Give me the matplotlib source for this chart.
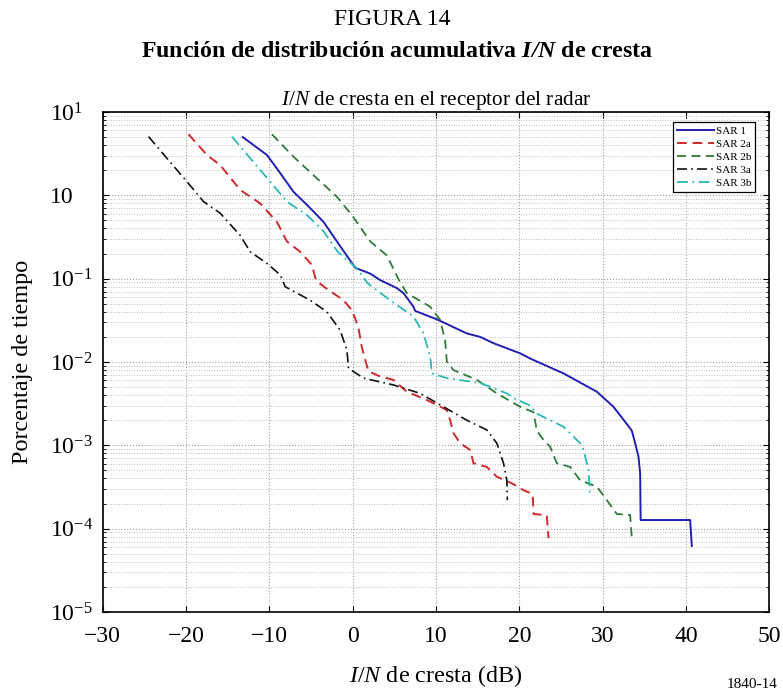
import numpy as np
import matplotlib
matplotlib.use('Agg')
from matplotlib import pyplot as plt
from matplotlib.ticker import LogLocator, NullFormatter

plt.rcParams['font.family'] = ['Liberation Serif', 'DejaVu Serif']
plt.rcParams['mathtext.fontset'] = 'custom'
plt.rcParams['mathtext.rm'] = 'Liberation Serif'
plt.rcParams['mathtext.it'] = 'Liberation Serif:italic'
plt.rcParams['mathtext.bf'] = 'Liberation Serif:bold'
plt.rcParams['mathtext.bfit'] = 'Liberation Serif:italic:bold'

# datos (I/N en dB, porcentaje de tiempo)
sar1_x = [-13.2, -10.3, -9.1, -7.1, -5.5, -3.5, -1.9, 0.07, 0.3, 2.1, 3.3, 5.3, 6.1, 7.3, 7.5,
          10.1, 13.7, 15.3, 16.9, 20.1, 21.3, 25.3, 29.3, 31.3, 32.9, 33.5, 33.9, 34.3, 34.5,
          34.56, 40.5, 40.7]
sar1_y = [5.0, 3.05, 2.1, 1.1, 0.77, 0.48, 0.28, 0.146, 0.135, 0.115, 0.096, 0.077, 0.067, 0.046,
          0.041, 0.0325, 0.022, 0.020, 0.0168, 0.0127, 0.011, 0.0073, 0.0044, 0.0029, 0.0018,
          0.0015, 0.00106, 7.3e-4, 4.6e-4, 1.27e-4, 1.27e-4, 6.2e-5]

sar2a_x = [-19.7, -17.5, -15.9, -13.5, -11.1, -9.1, -7.9, -6.3, -4.9, -4.4, -3.3, -1.1, -0.1,
           0.67, 1.08, 1.5, 1.9, 3.3, 4.9, 6.5, 8.9, 11.3, 11.7, 12.1, 12.9, 14.1, 14.5, 16.1,
           17.3, 19.1, 20.5, 21.6, 21.7, 23.3, 23.5]
sar2a_y = [5.4, 3.05, 2.3, 1.16, 0.80, 0.48, 0.28, 0.21, 0.146, 0.095, 0.078, 0.055, 0.042,
           0.0265, 0.0153, 0.0106, 0.0077, 0.0067, 0.0061, 0.0044, 0.0035, 0.00265, 0.0020,
           0.0014, 0.00106, 8.8e-4, 6.1e-4, 5.5e-4, 4.2e-4, 3.5e-4, 2.9e-4, 2.6e-4, 1.5e-4,
           1.45e-4, 7.7e-5]

sar2b_x = [-9.7, -7.1, -4.3, -1.9, 0.07, 2.1, 4.1, 5.6, 6.5, 9.3, 10.5, 11.1, 11.3, 12.1, 14.9,
           17.3, 20.1, 21.7, 22.1, 22.9, 23.7, 24.5, 26.1, 27.3, 29.3, 30.5, 31.7, 33.3, 33.5]
sar2b_y = [5.4, 2.9, 1.6, 0.96, 0.55, 0.28, 0.19, 0.094, 0.067, 0.046, 0.032, 0.018, 0.0101,
           0.0080, 0.0061, 0.0042, 0.0029, 0.0025, 0.0015, 0.00116, 9.6e-4, 6.1e-4, 5.5e-4,
           3.8e-4, 3.2e-4, 2.2e-4, 1.5e-4, 1.46e-4, 7.7e-5]

sar3a_x = [-24.5, -21.9, -19.9, -17.9, -15.9, -13.5, -12.3, -10.3, -8.7, -8.1, -5.1, -3.1, -1.5,
           -0.7, -0.5, 1.3, 4.9, 8.1, 10.9, 13.7, 16.1, 17.3, 18.1, 18.5, 18.56]
sar3a_y = [5.06, 2.5, 1.46, 0.84, 0.61, 0.33, 0.21, 0.153, 0.111, 0.08, 0.055, 0.040, 0.024,
           0.0139, 0.0084, 0.0064, 0.0053, 0.0042, 0.0029, 0.0020, 0.00153, 0.00106, 6.1e-4,
           3.8e-4, 2.2e-4]

sar3b_x = [-14.5, -11.9, -9.9, -7.9, -5.5, -3.5, -1.8, 0.5, 1.8, 4.5, 7.3, 8.5, 9.3, 9.5, 11.3,
           15.3, 18.5, 19.3, 21.3, 22.1, 25.3, 27.3, 27.7, 28.3, 28.5]
sar3b_y = [5.06, 2.5, 1.46, 0.84, 0.58, 0.37, 0.21, 0.133, 0.088, 0.055, 0.035, 0.022, 0.0116,
           0.0073, 0.0064, 0.0056, 0.0042, 0.0037, 0.0030, 0.0024, 0.00167, 0.00106, 8.8e-4,
           5.1e-4, 2.4e-4]

x_ticks = [-30, -20, -10, 0, 10, 20, 30, 40, 50]
y_ticks = [1e-5, 1e-4, 1e-3, 1e-2, 1e-1, 1e0, 1e1]
y_tick_labels = [r'$10^{-5}$', r'$10^{-4}$', r'$10^{-3}$', r'$10^{-2}$', r'$10^{-1}$', '10', r'$10^{1}$']

fig = plt.figure(figsize=(7.83, 6.92), dpi=100)
ax = fig.add_axes([0.1312, 0.1156, 0.8513, 0.7226])

ax.plot(sar1_x, sar1_y, color='#1f1fb4', lw=1.4, label='SAR 1')
ax.plot(sar2a_x, sar2a_y, color='#d02828', lw=1.4, ls=(0, (5, 3)), label='SAR 2a')
ax.plot(sar2b_x, sar2b_y, color='#2e7a36', lw=1.3, ls=(0, (5, 3)), label='SAR 2b')
ax.plot(sar3a_x, sar3a_y, color='#111111', lw=1.2, ls=(0, (6, 2.5, 1, 2.5)), label='SAR 3a')
ax.plot(sar3b_x, sar3b_y, color='#29b8b8', lw=1.3, ls=(0, (6, 2.5, 1, 2.5)), label='SAR 3b')

ax.set_yscale('log')
ax.set_xlim(-30, 50)
ax.set_ylim(1e-5, 1e1)
ax.set_xticks(x_ticks)
ax.set_yticks(y_ticks)
ax.set_yticklabels(y_tick_labels, ha='left')
ax.yaxis.set_minor_locator(LogLocator(base=10, subs=np.arange(2, 10), numticks=20))
ax.yaxis.set_minor_formatter(NullFormatter())

ax.tick_params(axis='both', which='major', direction='in', length=4, labelsize=17,
               top=True, right=True)
ax.tick_params(axis='y', which='major', pad=38)
ax.tick_params(axis='x', which='major', pad=10)
ax.tick_params(axis='y', which='minor', direction='in', length=2, left=True, right=True)

ax.grid(True, which='major', color='#a0a0a0', ls=':', lw=0.8)
ax.grid(True, which='minor', axis='y', color='#bbbbbb', ls=':', lw=0.7)
for s in ax.spines.values():
    s.set_linewidth(1.2)

leg = ax.legend(loc='upper right', bbox_to_anchor=(0.979, 0.98), borderaxespad=0,
                fontsize=8, handlelength=3.3, handletextpad=0.2, labelspacing=0.3,
                borderpad=0.35, fancybox=False, framealpha=1, edgecolor='black')
leg.get_frame().set_linewidth(0.9)

ax.set_xlabel(r'$\mathit{I/N}$ de cresta (dB)', fontsize=17.4, labelpad=12)
ax.set_ylabel('Porcentaje de tiempo', fontsize=17.4)
ax.yaxis.set_label_coords(-0.105, 0.5)
ax.set_title(r'$\mathit{I/N}$ de cresta en el receptor del radar', fontsize=15.3, pad=5)

fig.text(0.501, 0.972, 'FIGURA 14', ha='center', va='center', fontsize=17)
fig.text(0.507, 0.925, r'Función de distribución acumulativa $\mathbfit{I/N}$ de cresta',
         ha='center', va='center', fontsize=17.2, fontweight='bold')
fig.text(0.96, 0.002, '1840-14', ha='center', va='bottom', fontsize=11)

fig.savefig('out.png', dpi=100)
